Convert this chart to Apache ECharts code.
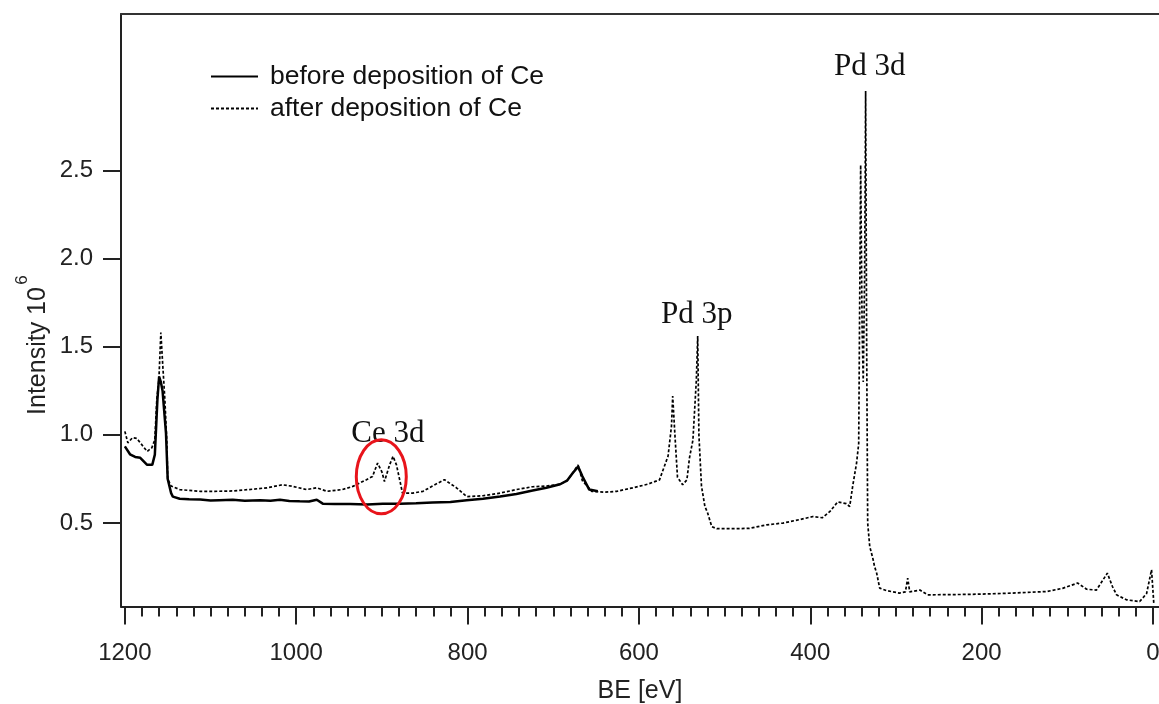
<!DOCTYPE html>
<html>
<head>
<meta charset="utf-8">
<script src="https://cdn.jsdelivr.net/npm/echarts@6/dist/echarts.min.js"></script>
<style>
html,body{margin:0;padding:0;background:#fff;}
#c{width:1159px;height:704px;}
</style>
</head>
<body>
<div id="c"></div>
<script>
// ---- data (binding energy in eV, intensity in 10^6) ----
const beforeBE = [1200,1194,1188,1182,1174,1168,1165,1162,1160,1158,
                  1156,1152,1150,1146,1144,1136,1125,1112,1100,1090,
                  1074,1060,1042,1030,1019,1008,996,985,976,969,
                  955,937,917,899,879,860,841,820,801,782,
                  762,743,724,708,692,684,677,671,666,658,
                  648];
const beforeI  = [0.935,0.89,0.875,0.87,0.83,0.83,0.888,1.2,1.33,1.30,
                  1.25,1.01,0.75,0.67,0.65,0.638,0.635,0.633,0.628,0.63,
                  0.632,0.626,0.63,0.627,0.632,0.625,0.623,0.622,0.632,0.61,
                  0.608,0.608,0.605,0.61,0.61,0.612,0.617,0.62,0.63,0.638,
                  0.65,0.665,0.685,0.70,0.72,0.74,0.785,0.82,0.765,0.69,
                  0.68];
const afterBE = [1200,1196.5,1191,1186,1182,1174,1168.5,1165,1162.7,1160.3,
                 1158,1155.7,1153.3,1151,1150,1146,1144,1136,1125,1112,
                 1095,1074,1055,1034,1016,1004,988,976,964,946,
                 934,918,911,905,900,897,891,887,883,879,
                 876,864,852,841,827,813,801,782,762,743,
                 724,708,692,684,677,671,666,655,640,626,
                 607,590,576,566,562,560.6,558,555,549,544,
                 541,537,533,531.4,530,527,523,520,515,509,
                 490,471,451,432,412,397,386,377,368,358,
                 354,350.5,346,343.5,341.2,339.5,338.2,336.6,335.4,334.2,
                 333,330.6,327,325,322.5,319,311,296,289,286.3,
                 284,272,263,226,202,164,124,105.5,88,77.5,
                 66,53.3,47.3,42.5,31,15.6,7.5,1.7,-1];
const afterI  = [1.02,0.955,0.984,0.98,0.955,0.906,0.927,0.973,1.2,1.31,
                 1.58,1.39,1.2,0.96,0.75,0.71,0.70,0.69,0.685,0.68,
                 0.68,0.682,0.69,0.70,0.717,0.708,0.69,0.70,0.68,0.69,
                 0.708,0.746,0.764,0.84,0.79,0.736,0.83,0.878,0.83,0.74,
                 0.67,0.67,0.68,0.71,0.746,0.70,0.65,0.655,0.67,0.69,
                 0.706,0.71,0.72,0.74,0.785,0.83,0.74,0.68,0.675,0.68,
                 0.70,0.72,0.745,0.88,1.05,1.22,1.0,0.76,0.717,0.745,
                 0.87,0.97,1.31,1.56,1.0,0.71,0.594,0.56,0.48,0.468,
                 0.468,0.47,0.49,0.50,0.52,0.537,0.53,0.566,0.62,0.61,
                 0.594,0.71,0.84,0.95,2.53,1.6,1.3,1.9,2.95,1.5,
                 0.5,0.367,0.30,0.254,0.216,0.131,0.117,0.103,0.11,0.188,
                 0.11,0.12,0.093,0.095,0.097,0.103,0.112,0.13,0.16,0.125,
                 0.12,0.216,0.14,0.093,0.065,0.055,0.1,0.235,0.04];
const xMajorTicks = [0,200,400,600,800,1000,1200];
const xMinorTicks = []; for (let v = 0; v <= 1200; v += 20) xMinorTicks.push(v);
const yTicks = [0.5,1.0,1.5,2.0,2.5];
const annNames = ['Pd 3d','Pd 3p','Ce 3d'];
const annBE    = [330.7, 532.5, 893];
const annI     = [3.084, 1.682, 1.007];
const circleCenter = [900.7, 0.762];
const seriesNames = ['before deposition of Ce','after deposition of Ce'];

const zip = (a,b) => a.map((v,i) => [v,b[i]]);
const sans = 'Liberation Sans';
const axisCol = '#222';

const chart = echarts.init(document.getElementById('c'), null, {renderer:'canvas', width:1159, height:704});
const option = {
  animation:false,
  backgroundColor:'#fff',
  grid:{left:121, right:0, top:14, bottom:97.5, containLabel:false, outerBoundsMode:'none'},
  legend:{
    orient:'vertical', left:205, top:58, itemWidth:47, itemHeight:14, itemGap:5,
    itemStyle:{opacity:0},
    textStyle:{fontFamily:sans, fontSize:26.5, color:'#111', lineHeight:25, padding:[0,0,0,7]},
    data:seriesNames
  },
  xAxis:[
    {type:'value', inverse:true, min:-7, max:1204.5, position:'bottom',
     axisLine:{show:true, onZero:false, lineStyle:{color:axisCol, width:2}},
     axisTick:{show:true, inside:false, length:10, customValues:xMinorTicks, lineStyle:{color:axisCol, width:2}},
     axisLabel:{show:true, customValues:xMajorTicks, margin:35, fontFamily:sans, fontSize:24, color:'#222',
                formatter: v => String(v)},
     splitLine:{show:false},
     name:'BE [eV]', nameLocation:'middle', nameGap:72,
     nameTextStyle:{fontFamily:sans, fontSize:25, color:'#222'}},
    {type:'value', inverse:true, min:-7, max:1204.5, position:'bottom',
     axisLine:{show:false, onZero:false},
     axisTick:{show:true, length:18, customValues:xMajorTicks, lineStyle:{color:axisCol, width:2}},
     axisLabel:{show:false}, splitLine:{show:false}},
    {type:'value', inverse:true, min:-7, max:1204.5, position:'top',
     axisLine:{show:true, onZero:false, lineStyle:{color:'#333', width:2}},
     axisTick:{show:false}, axisLabel:{show:false}, splitLine:{show:false}}
  ],
  yAxis:{
    type:'value', min:0.027, max:3.386,
    axisLine:{show:true, onZero:false, lineStyle:{color:axisCol, width:2}},
    axisTick:{show:true, length:18, customValues:yTicks, lineStyle:{color:axisCol, width:2}},
    axisLabel:{show:true, customValues:yTicks, margin:28, fontFamily:sans, fontSize:24, color:'#222',
               formatter: v => v.toFixed(1)},
    splitLine:{show:false}
  },
  series:[
    {name:seriesNames[0], type:'line', xAxisIndex:0, symbol:'none', z:3,
     lineStyle:{color:'#000', width:2.5, type:'solid'}, itemStyle:{color:'#000'},
     data:zip(beforeBE, beforeI)},
    {name:seriesNames[1], type:'line', xAxisIndex:0, symbol:'none', z:2,
     lineStyle:{color:'#000', width:1.7, type:[3,2]}, itemStyle:{color:'#000'},
     data:zip(afterBE, afterI),
     markPoint:{
       symbol:'circle', symbolSize:1, itemStyle:{color:'rgba(0,0,0,0)'},
       label:{show:true, position:'inside', formatter:'{b}', fontFamily:'Liberation Serif', fontSize:31, color:'#111'},
       data: annNames.map((n,i) => ({name:n, coord:[annBE[i], annI[i]]}))
     }}
  ]
};
chart.setOption(option);

const cc = chart.convertToPixel({xAxisIndex:0, yAxisIndex:0}, circleCenter);
chart.setOption({
  graphic:[
    {type:'ellipse', shape:{cx:cc[0], cy:cc[1], rx:25, ry:37},
     style:{fill:null, stroke:'#e8141b', lineWidth:3}, z:10},
    {type:'text', x:38, y:351, rotation:Math.PI/2,
     style:{text:'Intensity 10', fontFamily:sans, fontSize:25, fill:'#222', align:'center', verticalAlign:'middle'}},
    {type:'text', x:22, y:280, rotation:Math.PI/2,
     style:{text:'6', fontFamily:sans, fontSize:17, fill:'#222', align:'center', verticalAlign:'middle'}}
  ]
});
</script>
</body>
</html>
